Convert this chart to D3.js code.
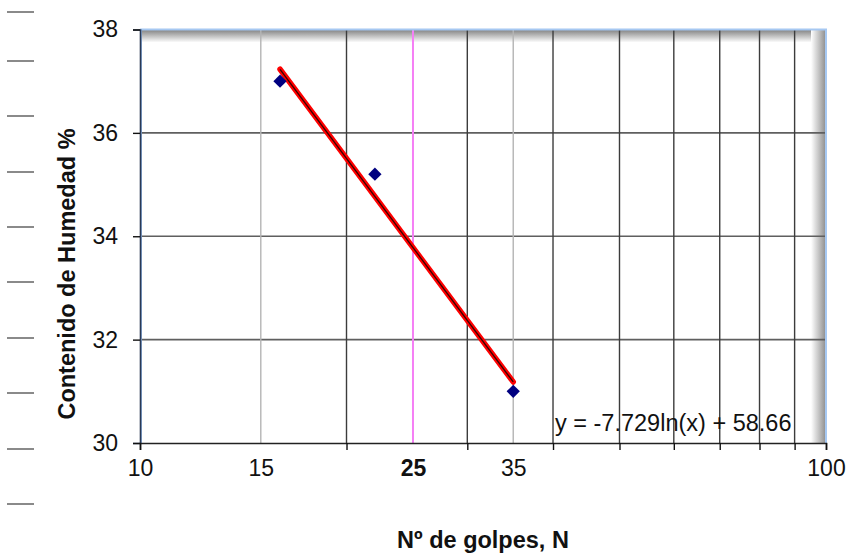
<!DOCTYPE html>
<html>
<head>
<meta charset="utf-8">
<script src="https://cdn.jsdelivr.net/npm/d3@7"></script>
<style>
  html, body { margin: 0; padding: 0; background: #fff; }
  svg { display: block; font-family: "Liberation Sans", Arial, sans-serif; }
</style>
</head>
<body>
<svg id="chart" width="848" height="556"></svg>
<script>
// Blow counts (N) and moisture content (%) for each trial
const golpes = [16, 22, 35];
const humedad = [37.0, 35.2, 31.0];

// Logarithmic fit y = a*ln(x) + b
const fitA = -7.729;
const fitB = 58.66;
const fitLabel = "y = -7.729ln(x) + 58.66";

// Axes
const xDomain = [10, 100];
const yDomain = [30, 38];
const xMajorTicks = [10, 20, 30, 40, 50, 60, 70, 80, 90, 100];
const xLightLines = [15, 35];
const xRefLine = 25;
const xTickLabels = [
  { v: 10, t: "10", bold: false },
  { v: 15, t: "15", bold: false },
  { v: 25, t: "25", bold: true },
  { v: 35, t: "35", bold: false },
  { v: 100, t: "100", bold: false }
];
const yTicks = [30, 32, 34, 36, 38];
const yGrid = [32, 34, 36];

const xTitle = "Nº de golpes, N";
const yTitle = "Contenido de Humedad %";

// Short rule marks running down the left margin
const sideMarks = [12, 61, 116, 172, 227, 282, 338, 393, 449, 504];

const svg = d3.select("#chart");
const plot = { left: 140, right: 826, top: 29.5, bottom: 443 };

const x = d3.scaleLog().domain(xDomain).range([plot.left, plot.right]);
const y = d3.scaleLinear().domain(yDomain).range([plot.bottom, plot.top]);

const defs = svg.append("defs");
const gTop = defs.append("linearGradient").attr("id", "shadeTop")
  .attr("x1", 0).attr("y1", 0).attr("x2", 0).attr("y2", 1);
gTop.append("stop").attr("offset", "0%").attr("stop-color", "#808080");
gTop.append("stop").attr("offset", "100%").attr("stop-color", "#ffffff");
const gRight = defs.append("linearGradient").attr("id", "shadeRight")
  .attr("x1", 0).attr("y1", 0).attr("x2", 1).attr("y2", 0);
gRight.append("stop").attr("offset", "0%").attr("stop-color", "#ffffff");
gRight.append("stop").attr("offset", "100%").attr("stop-color", "#8c8c8c");

// Left margin rules
svg.append("g").selectAll("line").data(sideMarks).join("line")
  .attr("x1", 7).attr("x2", 34)
  .attr("y1", d => d).attr("y2", d => d)
  .attr("stroke", "#8a8a8a").attr("stroke-width", 2);

// Plot area with inner shading along top and right edges
svg.append("rect")
  .attr("x", plot.left).attr("y", plot.top)
  .attr("width", plot.right - plot.left).attr("height", plot.bottom - plot.top)
  .attr("fill", "#fff");
svg.append("rect")
  .attr("x", plot.left).attr("y", plot.top)
  .attr("width", plot.right - plot.left - 2).attr("height", 13)
  .attr("fill", "url(#shadeTop)");
svg.append("rect")
  .attr("x", plot.right - 15).attr("y", plot.top)
  .attr("width", 15).attr("height", plot.bottom - plot.top)
  .attr("fill", "url(#shadeRight)");

// Horizontal grid
svg.append("g").selectAll("line").data(yGrid).join("line")
  .attr("x1", plot.left).attr("x2", plot.right)
  .attr("y1", d => y(d)).attr("y2", d => y(d))
  .attr("stroke", "#5f5f5f").attr("stroke-width", 1.6);

// Vertical grid
const darkLines = xMajorTicks.filter(v => v > xDomain[0] && v < xDomain[1]);
svg.append("g").selectAll("line").data(darkLines).join("line")
  .attr("x1", d => x(d)).attr("x2", d => x(d))
  .attr("y1", plot.top).attr("y2", plot.bottom)
  .attr("stroke", "#3c3c3c").attr("stroke-width", 1.4);
svg.append("g").selectAll("line").data(xLightLines).join("line")
  .attr("x1", d => x(d)).attr("x2", d => x(d))
  .attr("y1", plot.top).attr("y2", plot.bottom)
  .attr("stroke", "#b4b4b4").attr("stroke-width", 1.4);
svg.append("line")
  .attr("x1", x(xRefLine)).attr("x2", x(xRefLine))
  .attr("y1", plot.top).attr("y2", plot.bottom)
  .attr("stroke", "#f57ff5").attr("stroke-width", 2);

// Frame on top and right, thin blue edge inside the left axis
svg.append("path")
  .attr("d", `M${plot.left},${plot.top}H${plot.right}V${plot.bottom}`)
  .attr("fill", "none").attr("stroke", "#a6c8f2").attr("stroke-width", 2);
svg.append("line")
  .attr("x1", plot.left + 1.5).attr("x2", plot.left + 1.5)
  .attr("y1", plot.top).attr("y2", plot.bottom)
  .attr("stroke", "#8fb0dc").attr("stroke-width", 1);

// Y axis
const yAxis = svg.append("g")
  .attr("transform", `translate(${plot.left},0)`)
  .call(d3.axisLeft(y).tickValues(yTicks).tickFormat(d3.format("d")).tickSize(7).tickPadding(15));
yAxis.select(".domain").attr("stroke", "#2b3a55").attr("stroke-width", 1.6);
yAxis.selectAll(".tick line").attr("stroke", "#111").attr("stroke-width", 1.4);
yAxis.selectAll(".tick text").attr("font-size", 23).attr("fill", "#111")
  .attr("font-family", "Liberation Sans, Arial, sans-serif");

// X axis: tick marks
const xAxis = svg.append("g")
  .attr("transform", `translate(0,${plot.bottom})`)
  .call(d3.axisBottom(x).tickValues(xMajorTicks).tickFormat("").tickSize(7));
xAxis.select(".domain").attr("stroke", "#222").attr("stroke-width", 1.6);
xAxis.selectAll(".tick line").attr("stroke", "#111").attr("stroke-width", 1.4);

// X axis: labels
const xLab = svg.append("g")
  .attr("transform", `translate(0,${plot.bottom})`)
  .call(d3.axisBottom(x).tickValues(xTickLabels.map(d => d.v))
    .tickFormat((d, i) => xTickLabels[i].t).tickSize(0).tickPadding(17));
xLab.select(".domain").remove();
xLab.selectAll(".tick text")
  .attr("font-size", 23).attr("fill", "#111")
  .attr("font-family", "Liberation Sans, Arial, sans-serif")
  .attr("font-weight", (d, i) => xTickLabels[i].bold ? "bold" : "normal");

// Trend line (straight in log-x space)
const xr = d3.extent(golpes);
const trendPts = [xr[0], xr[1]].map(v => [v, fitA * Math.log(v) + fitB]);
const line = d3.line().x(d => x(d[0])).y(d => y(d[1]));
svg.append("path").datum(trendPts).attr("d", line)
  .attr("fill", "none").attr("stroke", "#ff0000").attr("stroke-width", 5.5)
  .attr("stroke-linecap", "round");
svg.append("path").datum(trendPts).attr("d", line)
  .attr("fill", "none").attr("stroke", "#3a0000").attr("stroke-width", 1.3);

// Data points
svg.append("g").selectAll("path").data(golpes.map((g, i) => [g, humedad[i]])).join("path")
  .attr("d", d3.symbol(d3.symbolSquare, 88))
  .attr("transform", d => `translate(${x(d[0])},${y(d[1])}) rotate(45)`)
  .attr("fill", "#000080");

// Fit equation
svg.append("text")
  .attr("x", 555).attr("y", 431)
  .attr("font-size", 23.5).attr("fill", "#111")
  .text(fitLabel);

// Axis titles
svg.append("text")
  .attr("x", 483).attr("y", 548)
  .attr("text-anchor", "middle")
  .attr("font-size", 23.5).attr("font-weight", "bold").attr("fill", "#111")
  .text(xTitle);
svg.append("text")
  .attr("transform", "translate(75,274) rotate(-90)")
  .attr("text-anchor", "middle")
  .attr("font-size", 23.5).attr("font-weight", "bold").attr("fill", "#111")
  .text(yTitle);
</script>
</body>
</html>
